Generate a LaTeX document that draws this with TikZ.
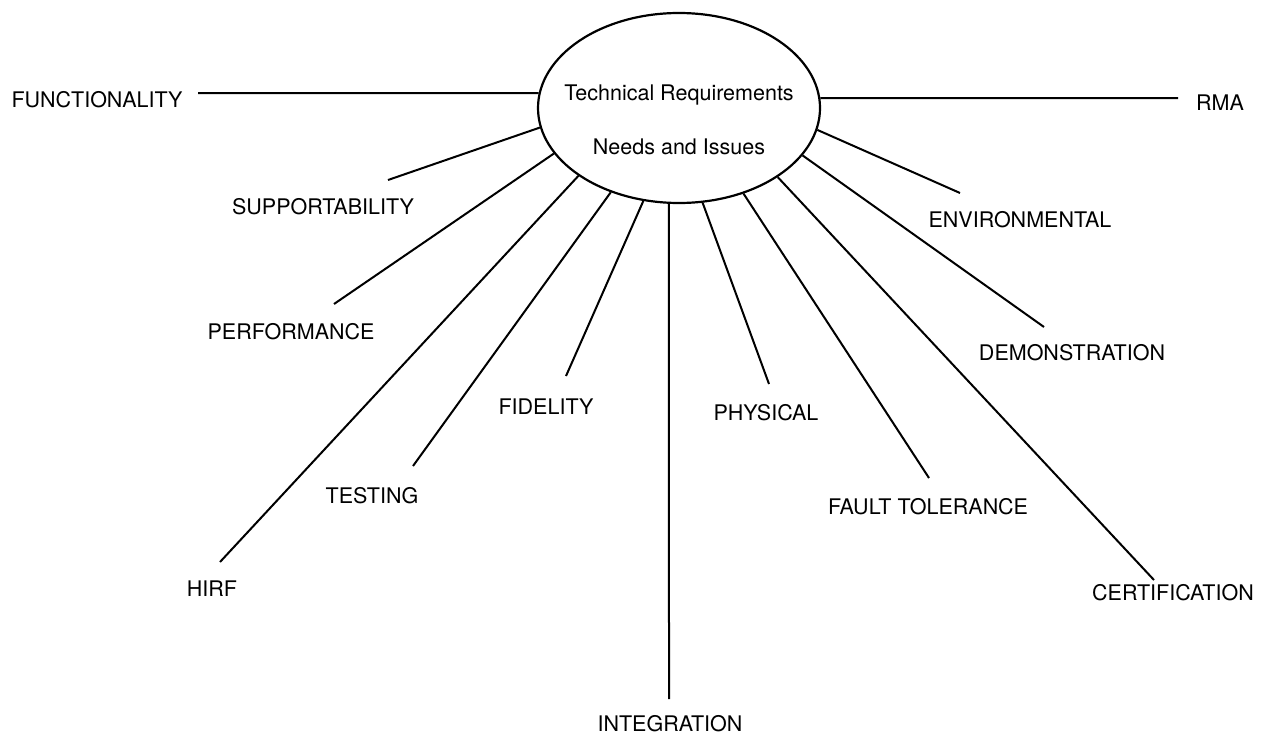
\documentclass[tikz,border=0pt]{standalone}
\usepackage{fontspec}
\setmainfont{TeX Gyre Heros}
\usetikzlibrary{shapes.geometric}

\begin{document}
\begin{tikzpicture}[x=1pt,y=-1pt]
    \tikzstyle{hub} = [ellipse,draw=black,line width=2.2pt,inner sep=0pt,
    minimum width=282pt,minimum height=190pt];
    \tikzstyle{item} = [font=\fontsize{21.5}{25}\selectfont,inner sep=0pt];
    \tikzstyle{spoke} = [black,line width=2pt];

    \useasboundingbox (0,0) rectangle (1265,736);

    \node[hub,name=hub] at (679,108) {};
    \node[item,name=title,align=center] at (679,120) {Technical Requirements\\[29pt]Needs and Issues};

    \node[item,name=func] at (97,100) {FUNCTIONALITY};
    \node[item,name=supp] at (323,207) {SUPPORTABILITY};
    \node[item,name=perf] at (291,332) {PERFORMANCE};
    \node[item,name=hirf] at (212,589) {HIRF};
    \node[item,name=test] at (372,496) {TESTING};
    \node[item,name=fide] at (546,407) {FIDELITY};
    \node[item,name=integ] at (670,724) {INTEGRATION};
    \node[item,name=phys] at (766,413) {PHYSICAL};
    \node[item,name=fault] at (928,507) {FAULT TOLERANCE};
    \node[item,name=cert] at (1173,593) {CERTIFICATION};
    \node[item,name=demo] at (1072,353) {DEMONSTRATION};
    \node[item,name=envi] at (1020,220) {ENVIRONMENTAL};
    \node[item,name=rma] at (1220,103) {RMA};

    \coordinate (funcend) at (198,93);
    \coordinate (suppend) at (388,180);
    \coordinate (perfend) at (334,304);
    \coordinate (hirfend) at (220,562);
    \coordinate (testend) at (413,466);
    \coordinate (fideend) at (566,376);
    \coordinate (integend) at (669,699);
    \coordinate (physend) at (769,384);
    \coordinate (faultend) at (929,478);
    \coordinate (certend) at (1154,580);
    \coordinate (demoend) at (1044,327);
    \coordinate (enviend) at (960,193);
    \coordinate (rmaend) at (1178,98);

    \path (hub.174.7) edge[spoke] (funcend);
    \path (hub.188.1) edge[spoke] (suppend);
    \path (hub.200.6) edge[spoke] (perfend);
    \path (hub.214) edge[spoke] (hirfend);
    \path (hub.231.3) edge[spoke] (testend);
    \path (hub.249) edge[spoke] (fideend);
    \path (hub.264.6) edge[spoke] (integend);
    \path (hub.284.9) edge[spoke] (physend);
    \path (hub.307.8) edge[spoke] (faultend);
    \path (hub.325.4) edge[spoke] (certend);
    \path (hub.339.4) edge[spoke] (demoend);
    \path (hub.351) edge[spoke] (enviend);
    \path (hub.4.9) edge[spoke] (rmaend);

\end{tikzpicture}
\end{document}
